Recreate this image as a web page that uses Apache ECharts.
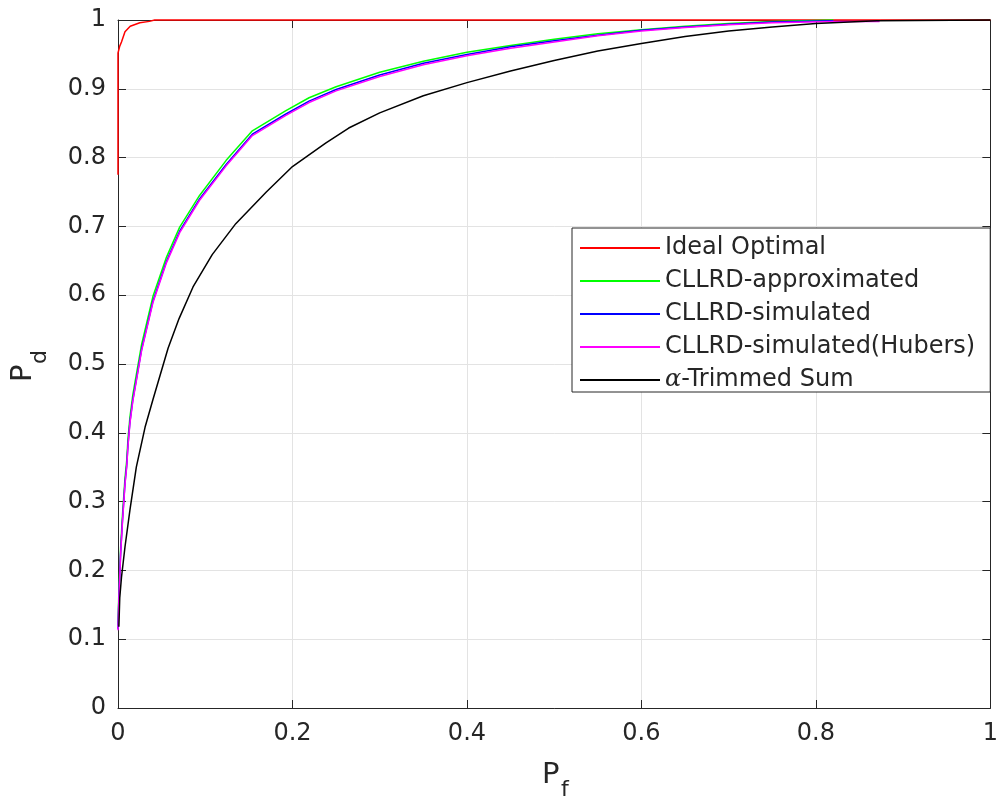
<!DOCTYPE html>
<html>
<head>
<meta charset="utf-8">
<script src="https://cdn.jsdelivr.net/npm/echarts@6/dist/echarts.min.js"></script>
<style>
html,body{margin:0;padding:0;background:#fff;}
#chart{width:1001px;height:800px;}
</style>
</head>
<body>
<div id="chart"></div>
<script>
// ---- data ----
const xTicks = [0, 0.2, 0.4, 0.6, 0.8, 1];
const yTicks = [0, 0.1, 0.2, 0.3, 0.4, 0.5, 0.6, 0.7, 0.8, 0.9, 1];

const seriesNames = ['Ideal Optimal', 'CLLRD-approximated', 'CLLRD-simulated', 'CLLRD-simulated(Hubers)', 'α-Trimmed Sum'];

const idealX = [0, 0, 0.002, 0.004, 0.008, 0.014, 0.025, 0.036, 0.042, 1];
const idealY = [0.775, 0.952, 0.962, 0.968, 0.983, 0.991, 0.996, 0.998, 1, 1];

const approxX = [0, 0.001, 0.003, 0.005, 0.008, 0.010, 0.0114, 0.0137, 0.017, 0.027, 0.040, 0.0555, 0.0707, 0.0935, 0.124, 0.154, 0.192, 0.219, 0.25, 0.3, 0.35, 0.4, 0.45, 0.5, 0.55, 0.6, 0.65, 0.7, 0.75, 0.82];
const approxY = [0.12, 0.17, 0.232, 0.278, 0.334, 0.36, 0.39, 0.423, 0.455, 0.528, 0.598, 0.655, 0.699, 0.745, 0.796, 0.839, 0.868, 0.887, 0.903, 0.924, 0.94, 0.953, 0.963, 0.972, 0.98, 0.986, 0.991, 0.995, 0.998, 1];

const simX = [0, 0.001, 0.003, 0.005, 0.008, 0.010, 0.0114, 0.0137, 0.017, 0.027, 0.040, 0.0555, 0.0707, 0.0935, 0.124, 0.154, 0.192, 0.219, 0.25, 0.3, 0.35, 0.4, 0.45, 0.5, 0.55, 0.6, 0.65, 0.7, 0.75, 0.82];
const simY = [0.115, 0.16, 0.225, 0.27, 0.327, 0.353, 0.382, 0.416, 0.448, 0.521, 0.591, 0.649, 0.693, 0.74, 0.79, 0.834, 0.863, 0.882, 0.899, 0.92, 0.937, 0.95, 0.961, 0.97, 0.978, 0.985, 0.99, 0.994, 0.997, 0.999];

const hubersX = [0, 0.001, 0.003, 0.005, 0.008, 0.010, 0.0114, 0.0137, 0.017, 0.027, 0.040, 0.0555, 0.0707, 0.0935, 0.124, 0.154, 0.192, 0.219, 0.25, 0.3, 0.35, 0.4, 0.45, 0.5, 0.55, 0.6, 0.65, 0.7, 0.75, 0.82, 0.873];
const hubersY = [0.113, 0.158, 0.223, 0.268, 0.325, 0.351, 0.38, 0.414, 0.446, 0.519, 0.589, 0.647, 0.691, 0.738, 0.788, 0.832, 0.861, 0.88, 0.897, 0.918, 0.935, 0.948, 0.959, 0.968, 0.977, 0.984, 0.989, 0.993, 0.996, 0.998, 0.998];

const trimX = [0.001, 0.002, 0.004, 0.008, 0.0137, 0.021, 0.031, 0.040, 0.0574, 0.07, 0.086, 0.108, 0.135, 0.170, 0.2, 0.238, 0.2645, 0.3, 0.35, 0.4, 0.45, 0.5, 0.55, 0.6, 0.65, 0.7, 0.75, 0.8, 0.87, 1];
const trimY = [0.118, 0.16, 0.19, 0.234, 0.288, 0.35, 0.408, 0.448, 0.523, 0.566, 0.612, 0.659, 0.704, 0.750, 0.787, 0.821, 0.843, 0.865, 0.89, 0.909, 0.926, 0.941, 0.955, 0.966, 0.976, 0.984, 0.99, 0.995, 0.999, 1];

const colors = ['#ff0000', '#00ff00', '#0000ff', '#ff00ff', '#000000'];

// ---- build ----
function pairs(xs, ys) { return xs.map((x, i) => [x, ys[i]]); }
const allX = [idealX, approxX, simX, hubersX, trimX];
const allY = [idealY, approxY, simY, hubersY, trimY];

const FONT = 'DejaVu Sans';
const AX = '#262626';

function axisCommon(showLabel, pos, isX) {
  const t = isX ? xTicks : yTicks;
  return {
    type: 'value',
    position: pos,
    min: t[0], max: t[t.length - 1], interval: t[1] - t[0],
    axisLine: { show: true, onZero: false, lineStyle: { color: AX, width: 1 } },
    axisTick: { show: true, inside: true, length: 8, lineStyle: { color: AX, width: 1 } },
    axisLabel: { show: showLabel, fontFamily: FONT, fontSize: 24, color: AX, margin: isX ? 14 : 12 },
    splitLine: { show: showLabel, lineStyle: { color: '#e3e3e3', width: 1 } }
  };
}

const chart = echarts.init(document.getElementById('chart'), null, { renderer: 'canvas' });
const option = {
  animation: false,
  backgroundColor: '#fff',
  grid: { left: 118, right: 6, top: 20, bottom: 92, show: false },
  xAxis: [axisCommon(true, 'bottom', true), axisCommon(false, 'top', true)],
  yAxis: [axisCommon(true, 'left', false), axisCommon(false, 'right', false)],
  legend: {
    orient: 'vertical',
    left: 572, top: 228,
    padding: [8, 15, 0, 8],
    itemGap: 9,
    itemWidth: 80, itemHeight: 2,
    icon: 'rect',
    backgroundColor: '#fff',
    borderColor: AX, borderWidth: 1,
    data: seriesNames,
    formatter: function (n) { return n === 'α-Trimmed Sum' ? '{a|α}-Trimmed Sum' : n; },
    textStyle: {
      fontFamily: FONT, fontSize: 24, color: AX, lineHeight: 24,
      rich: { a: { fontFamily: 'DejaVu Serif', fontStyle: 'italic', fontSize: 24, color: AX, lineHeight: 24 } }
    }
  },
  series: seriesNames.map((n, i) => ({
    name: n, type: 'line', xAxisIndex: 0, yAxisIndex: 0,
    data: pairs(allX[i], allY[i]),
    showSymbol: false, symbol: 'none', clip: false,
    color: colors[i],
    lineStyle: { color: colors[i], width: 1.5 },
    z: 2 + i
  })),
  graphic: [
    {
      type: 'group', x: 23, y: 382, rotation: Math.PI / 2,
      children: [
        { type: 'text', x: 0, y: 0, style: { text: 'P', fontFamily: FONT, fontSize: 29, fill: AX, align: 'left', verticalAlign: 'middle' } },
        { type: 'text', x: 18, y: 17, style: { text: 'd', fontFamily: FONT, fontSize: 22, fill: AX, align: 'left', verticalAlign: 'middle' } }
      ]
    },
    {
      type: 'group', x: 542, y: 775,
      children: [
        { type: 'text', x: 0, y: 0, style: { text: 'P', fontFamily: FONT, fontSize: 29, fill: AX, align: 'left', verticalAlign: 'middle' } },
        { type: 'text', x: 19, y: 15, style: { text: 'f', fontFamily: FONT, fontSize: 22, fill: AX, align: 'left', verticalAlign: 'middle' } }
      ]
    }
  ]
};
chart.setOption(option);
</script>
</body>
</html>
